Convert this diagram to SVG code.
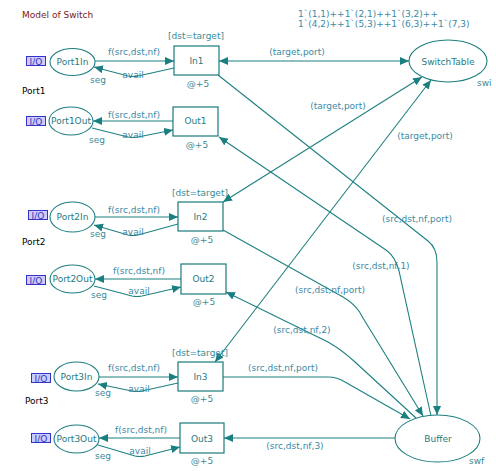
<svg xmlns="http://www.w3.org/2000/svg" width="496" height="471" viewBox="0 0 496 471">
<defs>
<marker id="ah" markerUnits="userSpaceOnUse" markerWidth="10" markerHeight="9" refX="9" refY="4" orient="auto-start-reverse" viewBox="0 0 10 9">
<path d="M0,0 L9,4 L0,8 z" fill="#1a7f80"/>
</marker>
<style>
.arc{fill:none;stroke:#1f8080;stroke-width:1.1}
.bi{marker-start:url(#ah);marker-end:url(#ah)}
.one{marker-end:url(#ah)}
.pl{fill:#fff;stroke:#1f7f80;stroke-width:1.1}
.tr{fill:#fff;stroke:#1a7a7a;stroke-width:1.2}
text{font-family:"DejaVu Sans",Verdana,sans-serif;font-size:9px}
.nm{fill:#1f7a82;text-anchor:middle}
.ins{fill:#3a8aa6}
.c{text-anchor:middle}
.tg{fill:#3a8a96}
.io{fill:#ccccff;stroke:#3333cc;stroke-width:1}
.iot{fill:#3333bb;font-size:9px;text-anchor:middle}
.port{fill:#000}
</style>
</defs>
<rect width="496" height="471" fill="#fff"/>
<text x="22" y="18" fill="#7a1a1a">Model of Switch</text>
<g id="connectors">
<path class="arc bi" d="M219,61 L409,61"/>
<path class="arc one" d="M218,75 L428,241 Q437,248 437,262 L437,415"/>
<path class="arc one" d="M431,416 L399,271 Q395,256 386,250 L219,137"/>
<path class="arc bi" d="M223,202 L422,77"/>
<path class="arc bi" d="M215,362 L431,80"/>
<path class="arc one" d="M223,230 L343,297 Q357,305 363,318 L423,416"/>
<path class="arc one" d="M416,418 L355,362 Q342,350 328,342 L226,292"/>
<path class="arc one" d="M223,377 L328,377 Q337,377 345,382 L410,419"/>
<path class="arc one" d="M395,438 L224,438"/>
<path class="arc one" d="M95,61 L174,61"/>
<path class="arc one" d="M174,68 L138,76 Q133,77 128,76 L94,67"/>
<path class="arc one" d="M173,121 L93,121"/>
<path class="arc one" d="M92,128 L128,137 Q133,138 138,137 L173,130"/>
<path class="arc one" d="M95,217 L178,217"/>
<path class="arc one" d="M178,224 L138,235 Q133,236 128,235 L94,225"/>
<path class="arc one" d="M181,279 L95,279"/>
<path class="arc one" d="M94,286 L132,296 Q137,297 142,296 L181,287"/>
<path class="arc one" d="M99,377 L178,377"/>
<path class="arc one" d="M178,383 L142,391 Q137,392 132,391 L98,384"/>
<path class="arc one" d="M180,438 L99,438"/>
<path class="arc one" d="M98,445 L135,456 Q140,457 145,456 L180,447"/>
<text class="ins c" x="297" y="55">(target,port)</text>
<text class="ins c" x="338" y="109">(target,port)</text>
<text class="ins c" x="425" y="139">(target,port)</text>
<text class="ins c" x="417" y="222">(src,dst,nf,port)</text>
<text class="ins c" x="381" y="269">(src,dst,nf,1)</text>
<text class="ins c" x="330" y="293">(src,dst,nf,port)</text>
<text class="ins c" x="302" y="333">(src,dst,nf,2)</text>
<text class="ins c" x="283" y="371">(src,dst,nf,port)</text>
<text class="ins c" x="295" y="449">(src,dst,nf,3)</text>
<text class="ins c" x="134" y="55">f(src,dst,nf)</text>
<text class="ins c" x="133" y="78">avail</text>
<text class="ins c" x="134" y="118">f(src,dst,nf)</text>
<text class="ins c" x="133" y="138">avail</text>
<text class="ins c" x="134" y="213">f(src,dst,nf)</text>
<text class="ins c" x="133" y="235">avail</text>
<text class="ins c" x="139" y="274">f(src,dst,nf)</text>
<text class="ins c" x="139" y="294">avail</text>
<text class="ins c" x="134" y="371">f(src,dst,nf)</text>
<text class="ins c" x="139" y="392">avail</text>
<text class="ins c" x="141" y="433">f(src,dst,nf)</text>
<text class="ins c" x="140" y="454">avail</text>
</g>
<g id="SwitchTable">
<ellipse class="pl" cx="448" cy="61" rx="39" ry="21"/>
<text class="nm" x="448" y="65">SwitchTable</text>
<text class="tg" x="477" y="86">swi</text>
<text class="ins" x="298" y="17">1`(1,1)++1`(2,1)++1`(3,2)++</text>
<text class="ins" x="298" y="27">1`(4,2)++1`(5,3)++1`(6,3)++1`(7,3)</text>
</g>
<g id="Buffer">
<ellipse class="pl" cx="437.5" cy="438.5" rx="42.5" ry="23.5"/>
<text class="nm" x="438" y="442">Buffer</text>
<text class="tg" x="469" y="464">swf</text>
</g>
<g id="Port1In">
<ellipse class="pl" cx="72.5" cy="62" rx="22.5" ry="13.5"/>
<text class="nm" x="72.5" y="65">Port1In</text>
<rect class="io" x="26.5" y="56.5" width="19" height="9"/>
<text class="iot" x="36" y="64.5">I/O</text>
<text class="tg c" x="98" y="83">seg</text>
</g>
<g id="Port1Out">
<ellipse class="pl" cx="71" cy="121" rx="22" ry="14"/>
<text class="nm" x="71" y="124">Port1Out</text>
<rect class="io" x="26.5" y="116.5" width="19" height="9"/>
<text class="iot" x="36" y="124.5">I/O</text>
<text class="tg c" x="97" y="143">seg</text>
</g>
<g id="In1">
<rect class="tr" x="174" y="46" width="45" height="29"/>
<text class="nm" x="196.5" y="64">In1</text>
<text class="tg c" x="196" y="39">[dst=target]</text>
<text class="tg c" x="198" y="87">@+5</text>
</g>
<g id="Out1">
<rect class="tr" x="173" y="107" width="45" height="29"/>
<text class="nm" x="195.5" y="124">Out1</text>
<text class="tg c" x="197" y="148">@+5</text>
</g>
<text class="port" x="22" y="94">Port1</text>
<g id="Port2In">
<ellipse class="pl" cx="72.5" cy="217" rx="22.5" ry="15"/>
<text class="nm" x="72.5" y="220">Port2In</text>
<rect class="io" x="28.5" y="210.5" width="19" height="9"/>
<text class="iot" x="38" y="218.5">I/O</text>
<text class="tg c" x="98" y="237">seg</text>
</g>
<g id="In2">
<rect class="tr" x="178" y="202" width="45" height="29"/>
<text class="nm" x="200.5" y="220">In2</text>
<text class="tg c" x="200" y="196">[dst=target]</text>
<text class="tg c" x="202" y="243">@+5</text>
</g>
<text class="port" x="22" y="245">Port2</text>
<g id="Port2Out">
<ellipse class="pl" cx="72.5" cy="279" rx="22.5" ry="14"/>
<text class="nm" x="72.5" y="282">Port2Out</text>
<rect class="io" x="26.5" y="275.5" width="19" height="9"/>
<text class="iot" x="36" y="283.5">I/O</text>
<text class="tg c" x="99" y="298">seg</text>
</g>
<g id="Out2">
<rect class="tr" x="181" y="264" width="45" height="30"/>
<text class="nm" x="203.5" y="282">Out2</text>
<text class="tg c" x="204" y="305">@+5</text>
</g>
<g id="Port3In">
<ellipse class="pl" cx="76.5" cy="376.5" rx="22.5" ry="14.5"/>
<text class="nm" x="76.5" y="380">Port3In</text>
<rect class="io" x="31.5" y="373.5" width="19" height="9"/>
<text class="iot" x="41" y="381.5">I/O</text>
<text class="tg c" x="103" y="396">seg</text>
</g>
<g id="In3">
<rect class="tr" x="178" y="362" width="45" height="29"/>
<text class="nm" x="200.5" y="380">In3</text>
<text class="tg c" x="200" y="356">[dst=target]</text>
<text class="tg c" x="202" y="402">@+5</text>
</g>
<text class="port" x="25" y="404">Port3</text>
<g id="Port3Out">
<ellipse class="pl" cx="76.5" cy="439" rx="22.5" ry="14"/>
<text class="nm" x="76.5" y="442">Port3Out</text>
<rect class="io" x="31.5" y="433.5" width="19" height="9"/>
<text class="iot" x="41" y="441.5">I/O</text>
<text class="tg c" x="103" y="459">seg</text>
</g>
<g id="Out3">
<rect class="tr" x="180" y="423" width="44" height="30"/>
<text class="nm" x="202" y="442">Out3</text>
<text class="tg c" x="202" y="464">@+5</text>
</g>
</svg>
